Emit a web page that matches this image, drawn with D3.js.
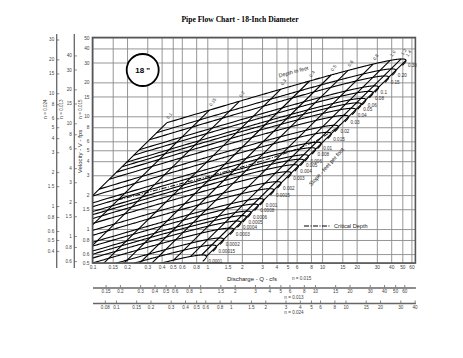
<!DOCTYPE html>
<html>
<head>
<meta charset="utf-8">
<script src="https://cdnjs.cloudflare.com/ajax/libs/d3/7.8.5/d3.min.js"></script>
<style>
  body { margin: 0; background: #fff; }
  text { font-family: "Liberation Sans", Arial, sans-serif; }
</style>
</head>
<body>
<script>
// Pipe flow nomograph, 18" pipe, Manning n = 0.015

var pipeDiameter = 1.5;   // ft (18 inch)
var manningN = 0.015;

// slope curves (ft/ft), labelled at their full-pipe end
var slopes = [0.0001, 0.00015, 0.0002, 0.0003, 0.0004, 0.0005, 0.0006, 0.0008,
    0.001, 0.0015, 0.002, 0.003, 0.004, 0.005, 0.006, 0.008,
    0.01, 0.015, 0.02, 0.03, 0.04, 0.05, 0.06, 0.08, 0.1, 0.15, 0.2, 0.3];
var slopeLabels = ["0.0001", "0.00015", "0.0002", "0.0003", "0.0004", "0.0005", "0.0006", "0.0008",
    "0.001", "0.0015", "0.002", "0.003", "0.004", "0.005", "0.006", "0.008",
    "0.01", "0.015", "0.02", "0.03", "0.04", "0.05", "0.06", "0.08", "0.1", "0.15", "0.20", "0.30"];

// depth lines (ft)
var depths = [0.1, 0.15, 0.2, 0.3, 0.4, 0.5, 0.6, 0.8, 1.0, 1.2, 1.4];
var depthLabels = ["0.1", "0.15", "0.2", "0.3", "0.4", "0.5", "0.6", "0.8", "1.0", "1.2", "1.4"];

// critical depth curve runs between these depths (ft)
var criticalDepthRange = [0.15, 1.4];

// tick values
var qTicks = [0.1, 0.15, 0.2, 0.3, 0.4, 0.5, 0.6, 0.8, 1, 1.5, 2, 3, 4, 5, 6, 8, 10, 15, 20, 30, 40, 50, 60];
var vTicks = [0.5, 0.6, 0.8, 1, 1.5, 2, 3, 4, 5, 6, 8, 10, 15, 20, 30, 40, 50];
var qTicks013 = [0.15, 0.2, 0.3, 0.4, 0.5, 0.6, 0.8, 1, 1.5, 2, 3, 4, 5, 6, 8, 10, 15, 20, 30, 40, 50, 60];
var qTicks024 = [0.08, 0.1, 0.15, 0.2, 0.3, 0.4, 0.5, 0.6, 0.8, 1, 1.5, 2, 3, 4, 5, 6, 8, 10, 15, 20, 30, 40];
var vTicks013 = [0.6, 0.8, 1, 1.5, 2, 3, 4, 6, 8, 10, 15, 20, 30, 40];
var vTicks024 = [0.4, 0.5, 0.6, 0.8, 1, 1.5, 2, 3, 4, 5, 6, 8, 10, 15, 20, 30];
var altN = [0.013, 0.024];

var plotL = 92.5, plotR = 415.4, plotT = 37.5, plotB = 263;
var fmt = function (d) { return String(d); };

var svg = d3.select("body").append("svg")
    .attr("width", 463)
    .attr("height", 358);

var x = d3.scaleLog().domain([0.1, 65]).range([plotL, plotR]);
var y = d3.scaleLog().domain([0.5, 50]).range([plotB, plotT]);

// --- hydraulics of the partly full circular section
function section(d) {
    var r = pipeDiameter / 2;
    var th = 2 * Math.acos(Math.max(-1, Math.min(1, 1 - d / r)));
    var A = r * r * (th - Math.sin(th)) / 2;
    var P = r * th;
    var T = 2 * Math.sqrt(Math.max(0, d * (pipeDiameter - d)));
    return { A: A, R: A / P, T: T };
}
function manning(d, s) {
    var sec = section(d);
    var v = 1.49 / manningN * Math.pow(sec.R, 2 / 3) * Math.sqrt(s);
    return { q: v * sec.A, v: v };
}
function critical(d) {
    var sec = section(d);
    var q = Math.sqrt(32.2 * Math.pow(sec.A, 3) / sec.T);
    return { q: q, v: q / sec.A };
}
var dSteps = d3.range(depths[0], pipeDiameter + 1e-9, 0.004);
if (dSteps[dSteps.length - 1] < pipeDiameter) dSteps.push(pipeDiameter);

// title
svg.append("text")
    .attr("x", 240).attr("y", 22)
    .attr("text-anchor", "middle")
    .style("font-family", "'Liberation Serif', 'Times New Roman', serif")
    .style("font-weight", "bold")
    .style("font-size", "7.6px")
    .text("Pipe Flow Chart - 18-Inch Diameter");

// grid
svg.append("g")
    .attr("transform", "translate(0," + plotB + ")")
    .call(d3.axisBottom(x).tickValues(qTicks).tickSize(-(plotB - plotT)).tickFormat(""))
    .call(function (g) {
        g.select(".domain").remove();
        g.selectAll("line").attr("stroke", "#8a8a8a").attr("stroke-width", 0.9);
    });
svg.append("g")
    .attr("transform", "translate(" + plotL + ",0)")
    .call(d3.axisLeft(y).tickValues(vTicks).tickSize(-(plotR - plotL)).tickFormat(""))
    .call(function (g) {
        g.select(".domain").remove();
        g.selectAll("line").attr("stroke", "#8a8a8a").attr("stroke-width", 0.9);
    });

// tick labels of the main axes
function styleLabels(g, size) {
    g.select(".domain").remove();
    g.selectAll("text").attr("fill", "#444").style("font-size", size + "px");
}
svg.append("g")
    .attr("transform", "translate(0," + plotB + ")")
    .call(d3.axisBottom(x).tickValues(qTicks).tickSize(0).tickPadding(3).tickFormat(fmt))
    .call(styleLabels, 4.8);
svg.append("g")
    .attr("transform", "translate(" + plotL + ",0)")
    .call(d3.axisLeft(y).tickValues(vTicks).tickSize(0).tickPadding(3).tickFormat(fmt))
    .call(styleLabels, 4.8);

// chart lines, clipped to the frame
svg.append("clipPath").attr("id", "frame")
    .append("rect").attr("x", plotL).attr("y", plotT)
    .attr("width", plotR - plotL).attr("height", plotB - plotT);

var plot = svg.append("g").attr("clip-path", "url(#frame)");
var line = d3.line().x(function (p) { return x(p.q); }).y(function (p) { return y(p.v); });

// slope curves: depth 0.1 ft to full
plot.selectAll("path.slope")
    .data(slopes)
    .enter().append("path")
    .attr("class", "slope")
    .attr("fill", "none")
    .attr("stroke", "#000")
    .attr("stroke-width", 1.1)
    .attr("d", function (s) {
        return line(dSteps.map(function (d) { return manning(d, s); }));
    });

// depth lines: smallest to largest slope
plot.selectAll("path.depth")
    .data(depths)
    .enter().append("path")
    .attr("class", "depth")
    .attr("fill", "none")
    .attr("stroke", "#000")
    .attr("stroke-width", 1.1)
    .attr("d", function (d) {
        return line([manning(d, slopes[0]), manning(d, slopes[slopes.length - 1])]);
    });

// critical depth
var critSteps = d3.range(criticalDepthRange[0], criticalDepthRange[1] + 1e-9, 0.01);
plot.append("path")
    .attr("fill", "none")
    .attr("stroke", "#000")
    .attr("stroke-width", 1)
    .attr("stroke-dasharray", "5,1.5,1,1.5")
    .attr("d", line(critSteps.map(critical)));

// frame
svg.append("rect")
    .attr("x", plotL).attr("y", plotT)
    .attr("width", plotR - plotL).attr("height", plotB - plotT)
    .attr("fill", "none")
    .attr("stroke", "#555")
    .attr("stroke-width", 1.6);

// slope labels at the end of each curve
svg.selectAll("text.slopelab")
    .data(slopes)
    .enter().append("text")
    .attr("class", "slopelab")
    .attr("x", function (s) {
        var qmax = d3.max(dSteps, function (d) { return manning(d, s).q; });
        return x(qmax) + 2;
    })
    .attr("y", function (s) { return y(manning(pipeDiameter, s).v) + 1.8; })
    .attr("fill", "#333")
    .style("font-size", "4.6px")
    .text(function (s, i) { return slopeLabels[i]; });

// depth labels at the top of each depth line
svg.selectAll("text.depthlab")
    .data(depths)
    .enter().append("text")
    .attr("class", "depthlab")
    .attr("transform", function (d) {
        var p = manning(d, slopes[slopes.length - 1]);
        return "translate(" + (x(p.q) + 2) + "," + (y(p.v) - 3.5) + ") rotate(-55)";
    })
    .attr("fill", "#333")
    .style("font-size", "4.6px")
    .text(function (d, i) { return depthLabels[i]; });

svg.append("text")
    .attr("transform", "translate(294,73.5) rotate(-15)")
    .attr("text-anchor", "middle")
    .attr("fill", "#222")
    .style("font-size", "5.4px")
    .text("Depth in feet");

svg.append("text")
    .attr("transform", "translate(328,168) rotate(-48)")
    .attr("text-anchor", "middle")
    .attr("fill", "#222")
    .style("font-size", "5.6px")
    .text("Slope - feet per foot");

// pipe size badge
svg.append("circle")
    .attr("cx", 142.7).attr("cy", 70).attr("r", 16)
    .attr("fill", "#fff")
    .attr("stroke", "#000")
    .attr("stroke-width", 1.8);
svg.append("text")
    .attr("x", 142.7).attr("y", 73)
    .attr("text-anchor", "middle")
    .style("font-weight", "bold")
    .style("font-size", "8px")
    .text("18 \"");

// legend
svg.append("line")
    .attr("x1", 304).attr("x2", 331).attr("y1", 226).attr("y2", 226)
    .attr("stroke", "#000")
    .attr("stroke-width", 1)
    .attr("stroke-dasharray", "5,1.5,1,1.5");
svg.append("text")
    .attr("x", 334).attr("y", 228)
    .attr("fill", "#222")
    .style("font-size", "5.6px")
    .text("Critical Depth");

// axis titles
svg.append("text")
    .attr("x", 252).attr("y", 281)
    .attr("text-anchor", "middle")
    .attr("fill", "#222")
    .style("font-size", "6px")
    .text("Discharge - Q - cfs");
svg.append("text")
    .attr("x", 292).attr("y", 280)
    .attr("fill", "#444")
    .style("font-size", "4.6px")
    .text("n = 0.015");

svg.append("text")
    .attr("transform", "translate(82,151.5) rotate(-90)")
    .attr("text-anchor", "middle")
    .attr("fill", "#222")
    .style("font-size", "6px")
    .text("Velocity - V - fps");
svg.append("text")
    .attr("transform", "translate(82,109) rotate(-90)")
    .attr("text-anchor", "middle")
    .attr("fill", "#444")
    .style("font-size", "4.6px")
    .text("n = 0.015");

// alternate roughness scales, Q and V scale with 1/n
function altAxisStyle(g) {
    g.select(".domain").attr("stroke", "#666").attr("stroke-width", 1.3);
    g.selectAll(".tick line").attr("stroke", "#666").attr("stroke-width", 0.8);
    g.selectAll("text").attr("fill", "#444").style("font-size", "4.6px");
}

var qAxisY = [287.5, 303];
var qAltTicks = [qTicks013, qTicks024];
altN.forEach(function (n, i) {
    var k = manningN / n;
    var xs = d3.scaleLog().domain([0.1 * k, 65 * k]).range([plotL, plotR]);
    svg.append("g")
        .attr("transform", "translate(0," + qAxisY[i] + ")")
        .call(d3.axisBottom(xs).tickValues(qAltTicks[i]).tickSizeInner(-2.5).tickSizeOuter(0)
            .tickPadding(2.5).tickFormat(fmt))
        .call(altAxisStyle);
    svg.append("text")
        .attr("x", 294).attr("y", qAxisY[i] + 11)
        .attr("text-anchor", "middle")
        .attr("fill", "#444")
        .style("font-size", "4.6px")
        .text("n = " + n.toFixed(3));
});

var vAxisX = [74.3, 56.7];
var vAltTicks = [vTicks013, vTicks024];
var vLabelX = [63, 46.5];
altN.forEach(function (n, i) {
    var k = manningN / n;
    var ys = d3.scaleLog().domain([0.5 * k, 50 * k]).range([plotB, plotT]);
    svg.append("g")
        .attr("transform", "translate(" + vAxisX[i] + ",0)")
        .call(d3.axisLeft(ys).tickValues(vAltTicks[i]).tickSizeInner(-2.5).tickSizeOuter(0)
            .tickPadding(2.5).tickFormat(fmt))
        .call(altAxisStyle)
        .call(function (g) { g.select(".domain").attr("d", "M0,34V268"); });
    svg.append("text")
        .attr("transform", "translate(" + vLabelX[i] + ",109) rotate(-90)")
        .attr("text-anchor", "middle")
        .attr("fill", "#444")
        .style("font-size", "4.6px")
        .text("n = " + n.toFixed(3));
});
</script>
</body>
</html>
